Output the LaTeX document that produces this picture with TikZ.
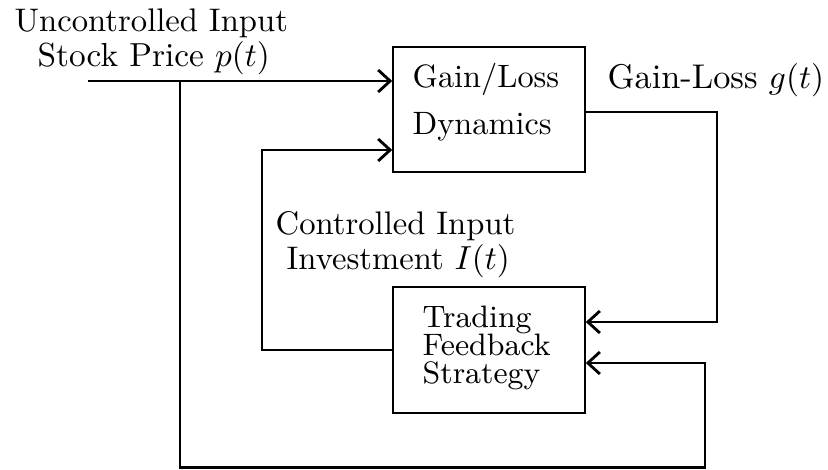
\documentclass[tikz,border=0pt]{standalone}
\usetikzlibrary{arrows.meta}
\begin{document}
\begin{tikzpicture}[x=0.3pt,y=-0.3pt,
  blockbox/.style={draw,line width=0.45pt,inner sep=0pt,minimum width=57.6pt},
  wire/.style={line width=0.85pt},
  arr/.style={wire,-{Straight Barb[length=3.6pt,width=6.6pt,line width=0.85pt]}},
  lbl/.style={inner sep=0pt,anchor=base west,font=\fontsize{9.8}{11.6}\selectfont},
  boxtxt/.style={inner sep=0pt,anchor=base west,font=\fontsize{9.7}{11}\selectfont},
  smalltxt/.style={inner sep=0pt,anchor=base west,font=\fontsize{9.3}{11}\selectfont}]
\useasboundingbox (0,0) rectangle (828,470);
% blocks
\node[blockbox,minimum height=37.5pt] (gl) at (489,109.5) {};
\node[blockbox,minimum height=37.8pt] (ts) at (489,350) {};
% block texts
\node[boxtxt] (gl1) at (412,88) {Gain/Loss};
\node[boxtxt] (gl2) at (412,135) {Dynamics};
\node[smalltxt] (ts1) at (422,328) {Trading};
\node[smalltxt] (ts2) at (422,356) {Feedback};
\node[smalltxt] (ts3) at (422,384) {Strategy};
% labels
\node[lbl] (l1) at (14,32) {Uncontrolled Input};
\node[lbl,font=\fontsize{10}{12}\selectfont] (l2) at (37,67) {Stock Price $p(t)$};
\node[lbl,font=\fontsize{10.3}{12}\selectfont] (l3) at (607,89) {Gain-Loss $g(t)$};
\node[lbl] (l4) at (275,235) {Controlled Input};
\node[lbl] (l5) at (286,270) {Investment $I(t)$};
% coordinates
\coordinate (in) at (88,81);
\coordinate (br) at (180,81);
\coordinate (bl) at (180,467.5);
\coordinate (brr) at (705,467.5);
\coordinate (fb) at (705,363);
\coordinate (oc) at (717,112);
\coordinate (od) at (717,322);
\coordinate (cx) at (262,150);
% connectors
\draw[arr] (in) -- (in -| gl.west);
\draw[arr] (br) -- (bl) -- (brr) -- (fb) -- (fb -| ts.east);
\draw[arr] (gl.east |- oc) -- (oc) -- (od) -- (od -| ts.east);
\draw[arr] (ts.west) -| (cx) -- (cx -| gl.west);
\end{tikzpicture}
\end{document}
